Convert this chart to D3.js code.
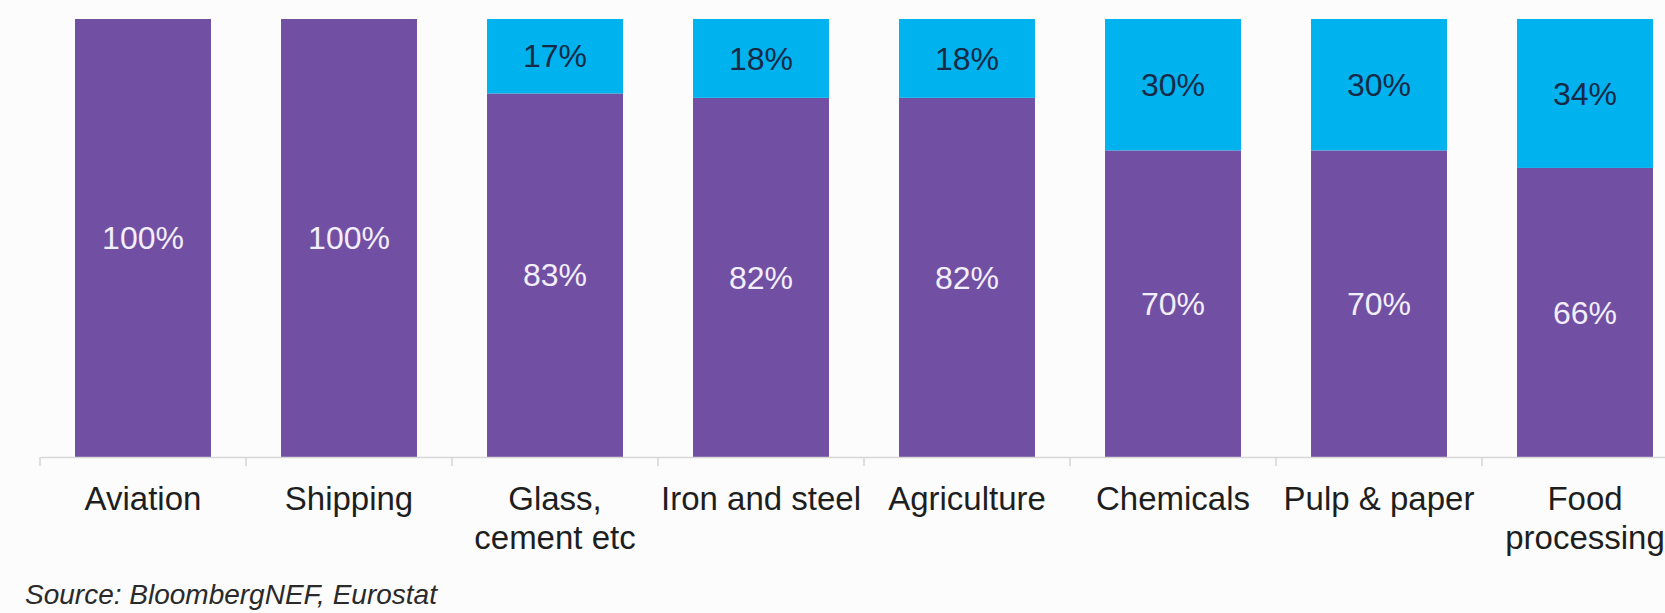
<!DOCTYPE html>
<html>
<head>
<meta charset="utf-8">
<script src="https://cdn.jsdelivr.net/npm/d3@7"></script>
<style>
  body { margin: 0; background: #fbfcfb; }
  svg { display: block; font-family: 'Liberation Sans', Arial, sans-serif; }
</style>
</head>
<body>
<div id="chart"></div>
<script>
// Data
var categories = ['Aviation', 'Shipping', 'Glass, cement etc', 'Iron and steel', 'Agriculture', 'Chemicals', 'Pulp & paper', 'Food processing']
var purpleShare = [100, 100, 83, 82, 82, 70, 70, 66]
var blueShare = [0, 0, 17, 18, 18, 30, 30, 34]
var tickLabels = [['Aviation'], ['Shipping'], ['Glass,', 'cement etc'], ['Iron and steel'], ['Agriculture'], ['Chemicals'], ['Pulp & paper'], ['Food', 'processing']]
var sourceText = 'Source: BloombergNEF, Eurostat'

var width = 1665
var height = 613

var svg = d3.select('#chart')
  .append('svg')
  .attr('width', width)
  .attr('height', height)

// Scales
var xPositionScale = d3.scaleBand()
  .domain(categories)
  .range([40, 1688])
  .paddingInner(0.34)
  .paddingOuter(0.17)

var yPositionScale = d3.scaleLinear()
  .domain([0, 100])
  .range([457, 19])

var rows = categories.map(function(c, i) {
  return { name: c, purple: purpleShare[i], blue: blueShare[i], lines: tickLabels[i] }
})

// Purple segments
svg.selectAll('.purple')
  .data(rows)
  .enter()
  .append('rect')
  .attr('class', 'purple')
  .attr('x', d => xPositionScale(d.name))
  .attr('width', xPositionScale.bandwidth())
  .attr('y', d => yPositionScale(d.purple))
  .attr('height', d => yPositionScale(0) - yPositionScale(d.purple))
  .attr('fill', '#7150a4')

// Blue segments on top
svg.selectAll('.blue')
  .data(rows.filter(d => d.blue > 0))
  .enter()
  .append('rect')
  .attr('class', 'blue')
  .attr('x', d => xPositionScale(d.name))
  .attr('width', xPositionScale.bandwidth())
  .attr('y', d => yPositionScale(d.purple + d.blue))
  .attr('height', d => yPositionScale(d.purple) - yPositionScale(d.purple + d.blue))
  .attr('fill', '#00b2ee')

// Labels
svg.selectAll('.purple-label')
  .data(rows)
  .enter()
  .append('text')
  .attr('x', d => xPositionScale(d.name) + xPositionScale.bandwidth() / 2)
  .attr('y', d => (yPositionScale(0) + yPositionScale(d.purple)) / 2)
  .attr('dy', '0.35em')
  .attr('text-anchor', 'middle')
  .attr('font-size', 32)
  .attr('fill', '#f3eefc')
  .text(d => d.purple + '%')

svg.selectAll('.blue-label')
  .data(rows.filter(d => d.blue > 0))
  .enter()
  .append('text')
  .attr('x', d => xPositionScale(d.name) + xPositionScale.bandwidth() / 2)
  .attr('y', d => (yPositionScale(d.purple) + yPositionScale(d.purple + d.blue)) / 2)
  .attr('dy', '0.35em')
  .attr('text-anchor', 'middle')
  .attr('font-size', 32)
  .attr('fill', '#142a47')
  .text(d => d.blue + '%')

// x axis: line, labels, and ticks at band edges
var xAxis = d3.axisBottom(xPositionScale).tickSize(0).tickFormat('')
var axisG = svg.append('g')
  .attr('class', 'axis x-axis')
  .attr('transform', 'translate(0,' + yPositionScale(0) + ')')
  .call(xAxis)
axisG.select('.domain').attr('stroke', '#d6d6d6').attr('stroke-width', 1.5)

var edgeOffset = xPositionScale.step() * xPositionScale.paddingOuter()
axisG.selectAll('.edge')
  .data(categories)
  .enter()
  .append('line')
  .attr('x1', d => xPositionScale(d) - edgeOffset)
  .attr('x2', d => xPositionScale(d) - edgeOffset)
  .attr('y1', 0)
  .attr('y2', 9)
  .attr('stroke', '#d6d6d6')
  .attr('stroke-width', 1.5)

var labels = axisG.selectAll('.cat-label')
  .data(rows)
  .enter()
  .append('text')
  .attr('class', 'cat-label')
  .attr('text-anchor', 'middle')
  .attr('font-size', 33)
  .attr('fill', '#1e1e1e')
  .attr('x', d => xPositionScale(d.name) + xPositionScale.bandwidth() / 2)
  .attr('y', 53)

labels.selectAll('tspan')
  .data(d => d.lines.map(l => ({ line: l, x: xPositionScale(d.name) + xPositionScale.bandwidth() / 2 })))
  .enter()
  .append('tspan')
  .attr('x', d => d.x)
  .attr('dy', (d, i) => i === 0 ? 0 : 39)
  .text(d => d.line)

// Source note
svg.append('text')
  .attr('x', 25)
  .attr('y', 604)
  .attr('font-size', 28)
  .attr('font-style', 'italic')
  .attr('fill', '#2a2a2a')
  .text(sourceText)
</script>
</body>
</html>
